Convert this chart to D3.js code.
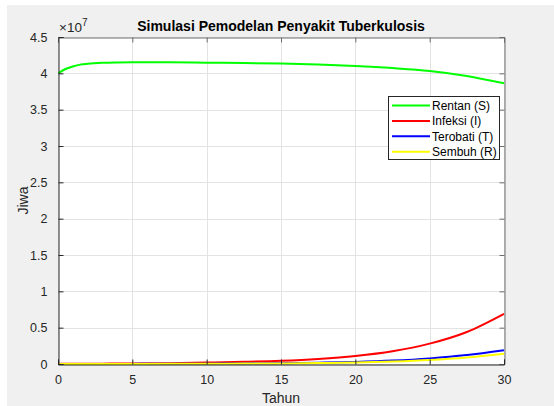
<!DOCTYPE html>
<html>
<head>
<meta charset="utf-8">
<script src="https://cdn.jsdelivr.net/npm/d3@7"></script>
<style>
  html, body { margin: 0; padding: 0; background: #ffffff; }
  svg { display: block; font-family: "Liberation Sans", Arial, Helvetica, sans-serif; }
</style>
</head>
<body>
<svg id="chart" width="554" height="406"></svg>
<script>
// Waktu simulasi (tahun)
const tahun = [0, 0.5, 1, 1.5, 2, 3, 4, 5, 7.5, 10, 12.5, 15, 17.5, 20, 22.5, 25, 27.5, 30];
// Jumlah populasi tiap kompartemen (juta jiwa)
const rentan   = [40.0, 40.6, 40.95, 41.2, 41.32, 41.45, 41.5, 41.52, 41.52, 41.47, 41.42, 41.34, 41.2, 41.0, 40.72, 40.33, 39.64, 38.62];
const infeksi  = [0.03, 0.033, 0.036, 0.039, 0.042, 0.05, 0.058, 0.07, 0.11, 0.19, 0.3, 0.45, 0.7, 1.1, 1.75, 2.8, 4.4, 6.9];
const terobati = [0, 0.002, 0.004, 0.006, 0.008, 0.011, 0.014, 0.017, 0.028, 0.047, 0.075, 0.115, 0.18, 0.29, 0.47, 0.77, 1.23, 1.9];
const sembuh   = [0, 0.001, 0.002, 0.003, 0.004, 0.006, 0.008, 0.01, 0.018, 0.032, 0.052, 0.082, 0.13, 0.21, 0.34, 0.55, 0.9, 1.42];

const seriesNames  = ["Rentan (S)", "Infeksi (I)", "Terobati (T)", "Sembuh (R)"];
const seriesColors = ["#00ff00", "#ff0000", "#0000ff", "#ffff00"];
const xTicks = [0, 5, 10, 15, 20, 25, 30];
const yTicks = [0, 0.5e7, 1e7, 1.5e7, 2e7, 2.5e7, 3e7, 3.5e7, 4e7, 4.5e7];

const series = [rentan, infeksi, terobati, sembuh].map((vals, i) => ({
  name: seriesNames[i],
  color: seriesColors[i],
  points: vals.map((v, j) => ({ t: tahun[j], v: v * 1e6 }))
}));

const svg = d3.select("#chart");
const W = 554, H = 406;
const plot = { left: 58, right: 504, top: 37, bottom: 364 };
const axisColor = "#262626";

// figure background
svg.append("rect").attr("x", 7).attr("y", 5).attr("width", W - 7).attr("height", H - 5).attr("fill", "#f0f0f0");

const x = d3.scaleLinear().domain([0, 30]).range([plot.left, plot.right]);
const y = d3.scaleLinear().domain([0, 4.5e7]).range([plot.bottom, plot.top]);

// axes background
svg.append("rect")
  .attr("x", plot.left).attr("y", plot.top)
  .attr("width", plot.right - plot.left).attr("height", plot.bottom - plot.top)
  .attr("fill", "#ffffff");

// grid
const grid = svg.append("g").attr("stroke", "#e3e3e3").attr("stroke-width", 1);
grid.selectAll(".gx").data(xTicks).join("line")
  .attr("x1", d => Math.round(x(d)) + 0.5).attr("x2", d => Math.round(x(d)) + 0.5)
  .attr("y1", plot.top).attr("y2", plot.bottom);
grid.selectAll(".gy").data(yTicks).join("line")
  .attr("y1", d => Math.round(y(d)) + 0.5).attr("y2", d => Math.round(y(d)) + 0.5)
  .attr("x1", plot.left).attr("x2", plot.right);

// data lines
const line = d3.line().x(d => x(d.t)).y(d => y(d.v)).curve(d3.curveMonotoneX);
svg.append("clipPath").attr("id", "clip").append("rect")
  .attr("x", plot.left).attr("y", plot.top - 2)
  .attr("width", plot.right - plot.left + 1).attr("height", plot.bottom - plot.top + 3);
svg.append("g").attr("clip-path", "url(#clip)")
  .selectAll("path").data(series).join("path")
  .attr("d", d => line(d.points))
  .attr("fill", "none")
  .attr("stroke", d => d.color)
  .attr("stroke-width", 2)
  .attr("stroke-linejoin", "round");

// axes (box with inward ticks)
const tickLen = 5;
const xAxisB = d3.axisBottom(x).tickValues(xTicks).tickSize(-tickLen).tickPadding(tickLen + 6).tickFormat(d3.format("d"));
const xAxisT = d3.axisTop(x).tickValues(xTicks).tickSize(-tickLen).tickFormat("");
const yAxisL = d3.axisLeft(y).tickValues(yTicks).tickSize(-tickLen).tickPadding(tickLen + 6).tickFormat(d => d3.format("")(d / 1e7));
const yAxisR = d3.axisRight(y).tickValues(yTicks).tickSize(-tickLen).tickFormat("");

function styleAxis(g, color) {
  g.select(".domain").attr("stroke", color);
  g.selectAll(".tick line").attr("stroke", color);
  g.selectAll(".tick text").attr("fill", axisColor).attr("font-size", 12.5)
    .attr("font-family", "'Liberation Sans', Arial, sans-serif");
}
svg.append("g").attr("transform", `translate(0,${plot.top + 0.5})`).call(xAxisT).call(styleAxis, "#6e6e6e");
svg.append("g").attr("transform", `translate(${plot.right + 0.5},0)`).call(yAxisR).call(styleAxis, "#6e6e6e");
svg.append("g").attr("transform", `translate(0,${plot.bottom + 0.5})`).call(xAxisB).call(styleAxis, axisColor);
svg.append("g").attr("transform", `translate(${plot.left + 0.5},0)`).call(yAxisL).call(styleAxis, axisColor);

// exponent label
const expo = svg.append("text").attr("x", 59).attr("y", 32).attr("fill", axisColor).attr("font-size", 13.5);
expo.append("tspan").text("\u00d710");
expo.append("tspan").attr("dy", -6.5).attr("font-size", 10).text("7");

// title
svg.append("text")
  .attr("x", (plot.left + plot.right) / 2).attr("y", 30.5)
  .attr("text-anchor", "middle").attr("font-weight", "bold").attr("font-size", 14)
  .attr("fill", "#000000")
  .text("Simulasi Pemodelan Penyakit Tuberkulosis");

// axis labels
svg.append("text")
  .attr("x", (plot.left + plot.right) / 2).attr("y", 402.5)
  .attr("text-anchor", "middle").attr("font-size", 14).attr("fill", axisColor)
  .text("Tahun");
svg.append("text")
  .attr("transform", `translate(28,${(plot.top + plot.bottom) / 2}) rotate(-90)`)
  .attr("text-anchor", "middle").attr("font-size", 14).attr("fill", axisColor)
  .text("Jiwa");

// legend
const lg = { x: 388, y: 96, w: 111, h: 63, row: 15.4 };
const legend = svg.append("g");
legend.append("rect")
  .attr("x", lg.x + 0.5).attr("y", lg.y + 0.5).attr("width", lg.w).attr("height", lg.h)
  .attr("fill", "#ffffff").attr("stroke", axisColor).attr("stroke-width", 1);
const items = legend.selectAll(".item").data(series).join("g")
  .attr("transform", (d, i) => `translate(${lg.x},${lg.y + 9.5 + i * lg.row})`);
items.append("line")
  .attr("x1", 4).attr("x2", 42).attr("y1", 0).attr("y2", 0)
  .attr("stroke", d => d.color).attr("stroke-width", 2);
items.append("text")
  .attr("x", 44).attr("y", 4.2).attr("font-size", 12).attr("fill", "#000000")
  .text(d => d.name);
</script>
</body>
</html>
